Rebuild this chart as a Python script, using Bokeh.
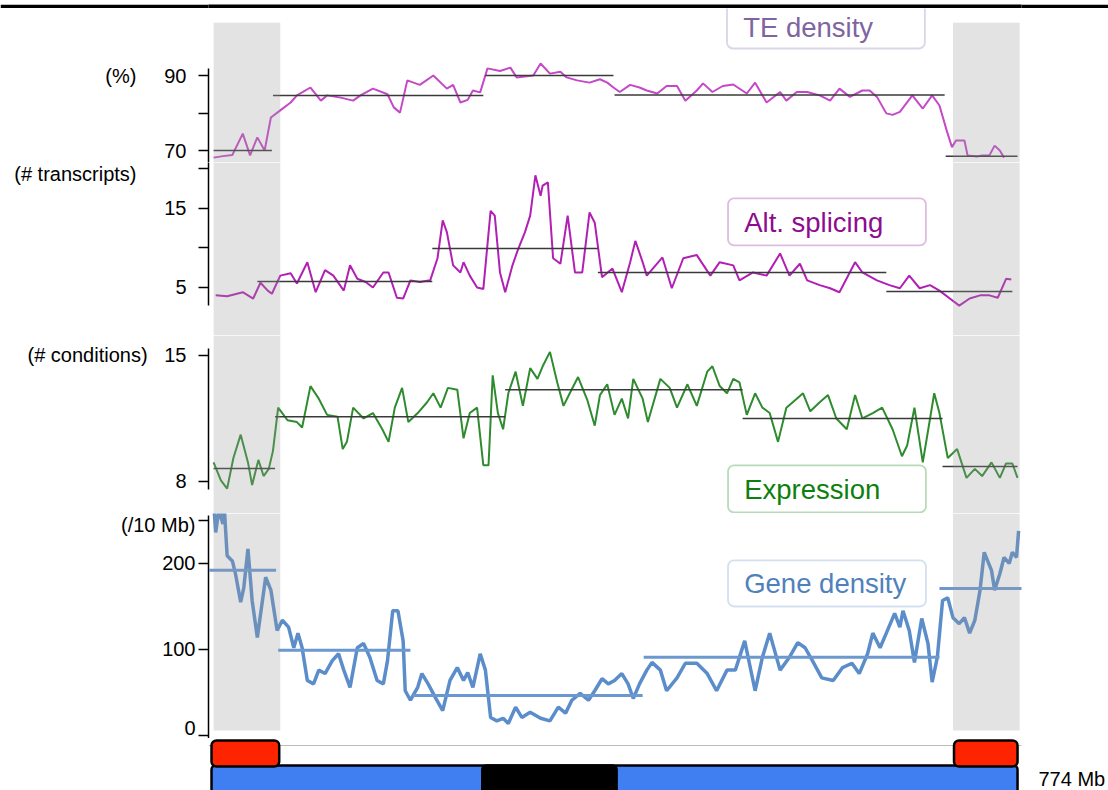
from bokeh.plotting import figure
from bokeh.models import Range1d, FixedTicker, BoxAnnotation, Label, Span
from bokeh.layouts import column
from bokeh.embed import file_html
from bokeh.resources import INLINE

# ---------------- data (positions in Mb) ----------------
te_mb = [2,11,20,30,37,44,51,57,66,76,82,95,105,111,124,136,143,155,169,175,181,188,200,213,226,232,239,246,251,258,
         265,277,287,293,309,316,325,335,341,351,363,373,380,386,392,402,411,418,428,437,447,455,466,472,481,491,501,514,522,533,
         546,552,562,572,584,594,603,613,625,632,639,648,654,661,673,683,692,699,706,711,715,723,726,735,740,747,752,757,761]
te_val = [68.1,68.5,68.8,74.5,68.7,73.5,70.0,78.8,80.7,82.8,84.7,86.8,83.3,84.7,84.1,83.3,84.7,86.5,85.0,81.5,
          80.1,88.7,87.5,90.0,86.5,87.5,82.8,83.5,86.0,85.5,91.9,91.2,92.1,89.5,90.0,93.2,90.5,91.0,89.5,88.7,
          88.1,89.0,88.1,86.8,85.6,87.5,86.8,86.0,85.2,87.2,87.2,83.3,86.0,87.9,85.6,87.2,87.6,85.2,88.1,82.8,
          85.6,83.3,85.6,85.6,84.7,83.3,86.5,84.3,86.0,86.0,84.3,79.9,79.5,80.3,84.7,81.2,84.7,82.0,75.3,70.9,
          72.7,72.7,68.7,68.4,68.7,68.7,71.3,70.0,68.1]
te_seg_start = [2, 59, 263, 387, 705]
te_seg_end = [58, 261, 386, 704, 774]
te_seg_mean = [70.0, 84.7, 90.0, 84.8, 68.5]

as_mb = [4,15,30,40,47,54,58,66,76,82,92,100,109,117,127,133,140,148,155,165,170,178,184,191,200,210,217,222,226,232,
         239,242,248,255,261,268,272,277,282,289,294,301,306,311,316,318,323,328,335,342,349,356,363,368,375,385,394,402,407,414,
         418,433,442,453,466,479,488,501,507,520,533,546,555,565,572,584,594,603,618,625,639,651,661,670,680,690,699,709,718,728,
         738,747,755,763,768]
as_val = [4.0,3.9,4.4,3.6,5.6,4.6,4.2,6.5,6.8,5.5,8.2,4.4,7.2,6.5,4.6,7.8,6.1,5.7,5.0,6.9,
          6.9,3.7,3.6,5.9,5.7,5.9,8.7,13.5,12.0,7.8,6.9,8.2,6.5,5.0,4.8,14.7,14.1,6.9,4.4,7.8,
          9.7,12.0,14.1,19.2,16.6,17.9,18.3,8.7,8.0,14.1,6.9,6.9,14.5,13.2,6.3,7.4,4.4,8.2,10.9,8.2,
          6.5,8.8,4.9,8.7,9.1,6.5,8.2,7.8,5.9,6.9,6.5,9.3,6.5,8.0,5.9,5.3,4.9,4.4,8.2,6.9,
          5.9,5.3,4.9,6.5,4.9,5.3,4.6,3.6,2.7,3.6,4.0,4.0,3.7,6.1,6.0]
as_seg_start = [44, 212, 371, 648]
as_seg_end = [212, 371, 648, 769]
as_seg_mean = [5.76, 9.94, 6.9, 4.5]

ex_mb = [2,9,15,21,28,35,39,45,50,55,59,64,73,82,87,95,103,111,121,126,130,136,146,155,164,170,176,183,189,198,
         207,213,220,227,236,242,248,255,261,266,270,275,280,285,292,299,306,313,318,325,332,338,344,352,361,368,373,380,387,394,
         400,405,414,419,431,440,447,457,466,476,481,488,495,501,507,514,522,529,536,544,552,562,568,575,584,592,600,610,618,625,
         635,644,654,663,668,675,683,690,694,699,707,716,725,733,740,749,757,763,769,774]
ex_val = [9.06,8.06,7.6,9.3,10.6,9.06,7.8,9.2,8.3,8.7,9.7,12.1,11.4,11.3,11.0,13.3,12.6,11.7,11.6,9.8,
          10.2,12.1,11.5,11.8,10.9,10.2,12.1,13.2,11.3,11.8,12.4,12.9,12.1,13.2,13.1,10.4,11.8,12.1,8.9,8.9,
          13.9,11.8,10.9,12.9,14.1,12.2,14.3,13.7,14.4,15.2,13.5,12.2,12.9,13.8,12.5,11.1,12.8,13.4,11.7,12.6,
          11.5,13.7,12.6,11.3,13.7,13.2,12.1,13.4,12.2,14.1,14.4,13.3,12.9,13.7,13.5,11.7,12.9,12.1,11.8,10.2,
          12.1,12.6,12.9,11.9,12.4,12.8,11.5,10.9,12.8,11.5,11.8,12.1,10.9,9.4,10.0,12.1,9.06,11.5,12.9,11.8,
          9.3,9.8,8.2,8.7,8.3,9.06,8.2,9.0,9.0,8.2]
ex_seg_start = [2, 61, 282, 510, 702]
ex_seg_end = [61, 282, 510, 702, 774]
ex_seg_mean = [8.72, 11.6, 13.1, 11.5, 8.83]

ge_mb = [2,4,7,11,12,15,20,23,28,31,35,39,44,52,57,63,68,74,79,83,87,92,98,103,109,116,122,127,133,140,
         146,152,159,165,169,174,179,184,186,191,198,202,208,215,222,229,236,242,246,251,258,263,268,274,280,285,292,298,306,316,
         325,333,340,346,354,362,368,375,381,387,394,400,405,411,418,423,431,437,447,455,466,476,485,495,503,512,522,529,536,546,
         555,563,570,577,586,597,606,615,622,630,635,642,648,656,661,664,670,675,682,688,692,697,702,707,712,718,723,728,733,738,
         742,749,752,757,761,766,769,773,775]
ge_val = [273,236,262,246,270,209,203,188,155,172,217,157,114,184,169,122,134,126,102,119,
          102,64,60,76,72,87,95,76,56,102,107,91,64,60,87,145,145,110,52,41,
          56,72,60,44,29,64,79,64,73,56,95,76,21,17,20,14,33,21,27,20,
          17,33,26,41,49,41,52,66,60,64,72,60,43,60,76,85,76,52,67,84,
          84,72,52,76,76,110,52,91,119,76,91,108,102,87,67,64,79,84,72,95,
          119,102,119,142,126,145,122,85,136,107,62,91,157,160,137,130,137,119,134,169,
          213,192,169,188,207,200,213,207,238]
ge_seg_start = [-2, 64, 193, 415, 699]
ge_seg_end = [62, 191, 414, 699, 781]
ge_seg_mean = [192, 99, 46.5, 91, 171]

grey_start = [2, 712]
grey_end = [66, 776]

chrom_len = 774
cen_start, cen_end = 260, 389
tel_start = [0, 713]
tel_end = [65, 774]

# ---------------- styling helpers ----------------
FONT = "Liberation Sans"
W = 1108
XR = Range1d(-2.9, 777.8)
NB = "\u00a0"


def make_fig(h, y0, y1, yloc="left"):
    p = figure(width=W, height=h, x_range=XR, y_range=Range1d(y0, y1),
               output_backend="svg", toolbar_location=None, tools="",
               x_axis_location=None, y_axis_location=yloc,
               min_border=0, min_border_left=208, min_border_right=86)
    p.outline_line_color = None
    p.grid.visible = False
    p.background_fill_color = "white"
    p.border_fill_color = "white"
    return p


def style_axis(ax, ticks, overrides, bounds, standoff):
    ax.ticker = FixedTicker(ticks=ticks)
    ax.major_label_overrides = overrides
    if bounds is not None:
        ax.bounds = bounds
    ax.axis_line_color = "black"
    ax.axis_line_width = 1.5
    ax.major_tick_line_color = "black"
    ax.major_tick_line_width = 1.5
    ax.major_tick_out = 10
    ax.major_tick_in = 0
    ax.minor_tick_line_color = None
    ax.major_label_standoff = standoff
    ax.major_label_text_font = FONT
    ax.major_label_text_font_size = "20px"
    ax.major_label_text_color = "black"


def add_grey(p, bottom=None, top=None):
    for a, b in zip(grey_start, grey_end):
        kw = dict(left=a, right=b, fill_color="#9B9B9B", fill_alpha=0.28,
                  line_color=None, level="annotation")
        if bottom is not None:
            kw["bottom"] = bottom
        if top is not None:
            kw["top"] = top
        p.add_layout(BoxAnnotation(**kw))


def add_tag(p, left, right, bottom, top, ty, text, tcolor, bcolor):
    p.add_layout(BoxAnnotation(left=left, right=right, bottom=bottom, top=top,
                               fill_color="white", fill_alpha=1.0, line_color=bcolor,
                               line_width=1.8, border_radius=6, level="overlay"))
    p.add_layout(Label(x=left + 15.5, y=ty, text=text, text_font=FONT, text_font_size="27.5px",
                       text_color=tcolor, text_baseline="middle", text_align="left",
                       level="overlay"))


MEAN_C = "#3a3a3a"

# ---------------- top band (black strip of the original slide) ----------------
band = figure(width=W, height=8, output_backend="svg", toolbar_location=None, tools="",
              x_axis_location=None, y_axis_location=None, min_border=0)
band.outline_line_color = None
band.grid.visible = False
band.background_fill_color = "black"
band.border_fill_color = "black"

# ---------------- TE density ----------------
p1 = make_fig(154, 66.8, 107.87)
style_axis(p1.yaxis[0], [70, 80, 90], {70: "70", 80: "", 90: "(%)" + NB * 5 + "90"}, (66.8, 92.0), 12)
p1.line(te_mb, te_val, line_color="#C548C8", line_width=2)
p1.segment(x0=te_seg_start, x1=te_seg_end, y0=te_seg_mean, y1=te_seg_mean, line_color=MEAN_C, line_width=1.5)
add_grey(p1, top=104.1)
add_tag(p1, 495, 685, 97.2, 112, 102.8, "TE density", "#8064A2", "#8A72B4")

# ---------------- Alternative splicing ----------------
p2 = make_fig(173, -1.08, 20.82)
style_axis(p2.yaxis[0], [5, 10, 15, 20], {5: "5", 10: "", 15: "15", 20: "(# transcripts)" + NB * 9},
           (2.7, 20.82), 12)
p2.line(as_mb, as_val, line_color="#B21FB5", line_width=2)
p2.segment(x0=as_seg_start, x1=as_seg_end, y0=as_seg_mean, y1=as_seg_mean, line_color=MEAN_C, line_width=1.5)
add_grey(p2)
add_tag(p2, 496, 686, 10.32, 16.27, 13.23, "Alt. splicing", "#8E0C8E", "#951E95")

# ---------------- Expression ----------------
p3 = make_fig(178, 6.22, 16.11)
style_axis(p3.yaxis[0], [8, 15], {8: "8", 15: "(# conditions)" + NB * 3 + "15"}, (7.55, 15.39), 12)
p3.line(ex_mb, ex_val, line_color="#2E8B2E", line_width=2)
p3.segment(x0=ex_seg_start, x1=ex_seg_end, y0=ex_seg_mean, y1=ex_seg_mean, line_color=MEAN_C, line_width=1.5)
add_grey(p3)
add_tag(p3, 496, 686, 6.28, 8.89, 7.56, "Expression", "#0E7F0E", "#178517")

# ---------------- Gene density ----------------
p4 = make_fig(225, -3.5, 258.1)
style_axis(p4.yaxis[0], [0, 100, 200, 250], {0: "0", 100: "100", 200: "200", 250: "(/10 Mb)"},
           (-3.5, 255.8), 3)
p4.line(ge_mb, ge_val, line_color="#5B8DCA", line_width=3.5)
p4.segment(x0=ge_seg_start, x1=ge_seg_end, y0=ge_seg_mean, y1=ge_seg_mean, line_color="#6A98CF", line_width=3)
add_grey(p4, bottom=5.8)
add_tag(p4, 496, 686, 150, 203.5, 176.7, "Gene density", "#4F81BD", "#6E98CC")

# ---------------- Chromosome ----------------
p5 = make_fig(52, 0, 52, yloc="right")
ax5 = p5.yaxis[0]
ax5.ticker = FixedTicker(ticks=[12])
ax5.major_label_overrides = {12: "774 Mb"}
ax5.axis_line_color = None
ax5.major_tick_line_color = None
ax5.minor_tick_line_color = None
ax5.major_label_standoff = 11
ax5.major_label_text_font = FONT
ax5.major_label_text_font_size = "20px"
ax5.major_label_text_color = "black"
p5.add_layout(Span(location=45, dimension="width", line_color="#BBBBBB", line_width=1, level="underlay"))
p5.quad(left=[0], right=[chrom_len], bottom=-3, top=25, fill_color="#3F7FF2", line_color="black",
        line_width=2.5, border_radius=4)
p5.quad(left=[cen_start], right=[cen_end], bottom=-3, top=25, fill_color="black", line_color="black",
        line_width=2.5, border_radius=4)
p5.quad(left=tel_start, right=tel_end, bottom=24, top=50, fill_color="#FF2400", line_color="black",
        line_width=2.5, border_radius=5)

layout = column(band, p1, p2, p3, p4, p5, spacing=0)
open("out.html", "w").write(file_html(layout, INLINE))
